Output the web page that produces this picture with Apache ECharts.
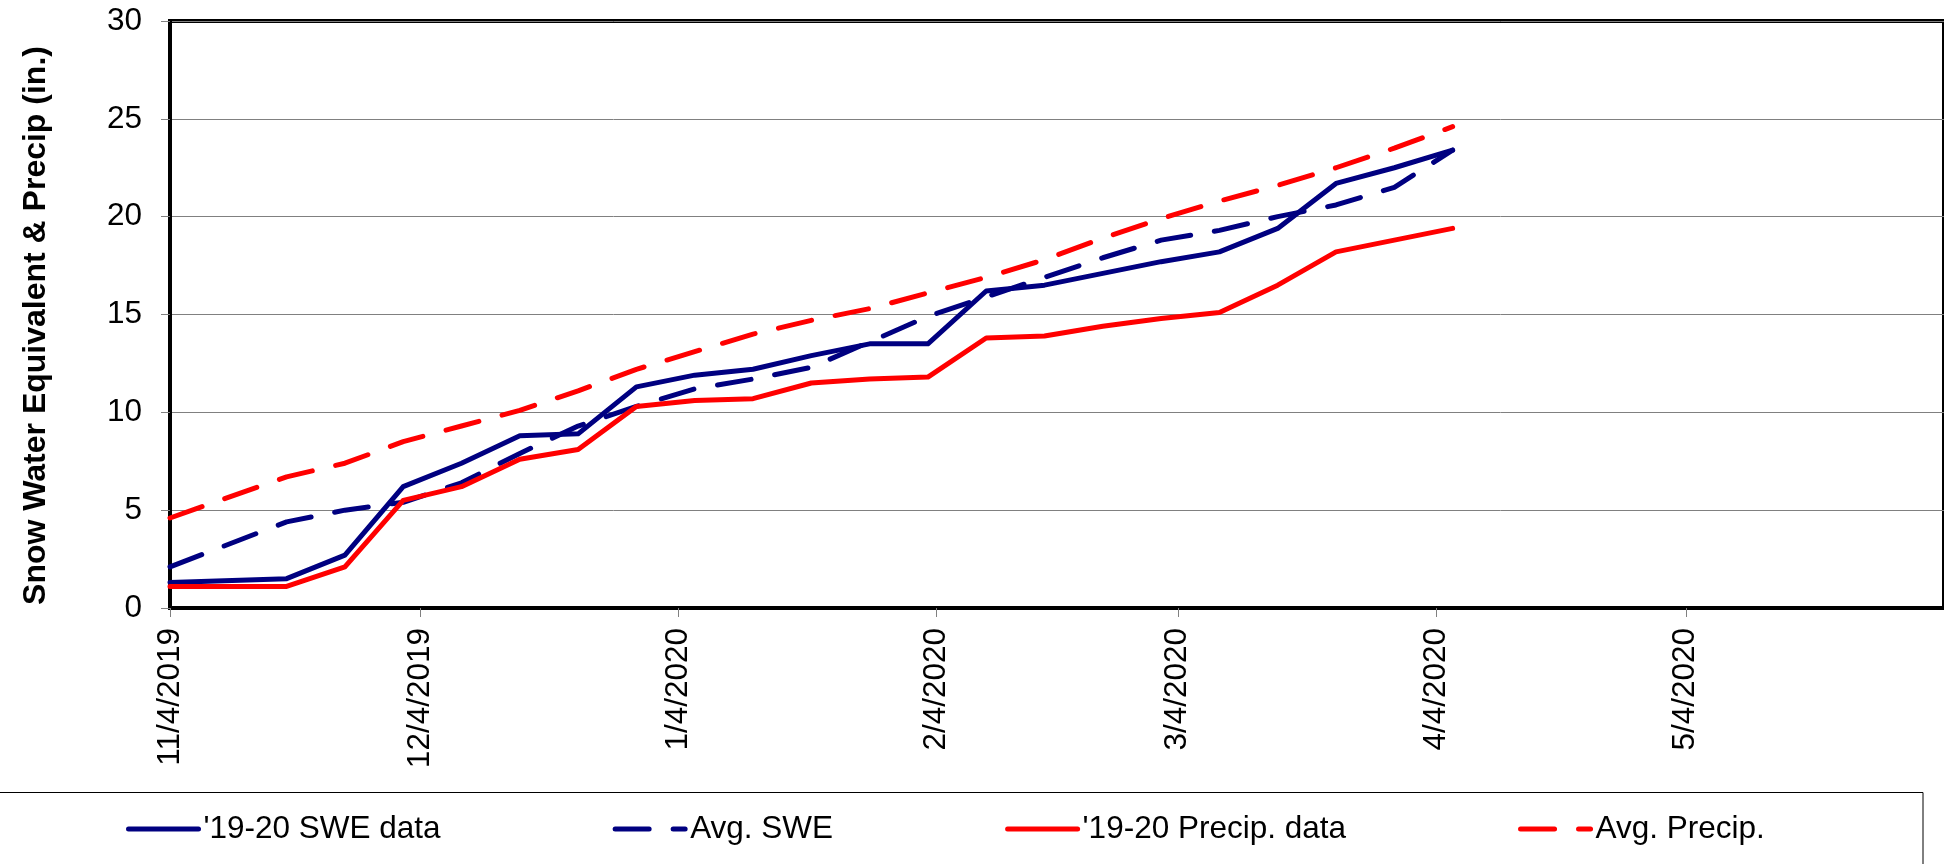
<!DOCTYPE html>
<html>
<head>
<meta charset="utf-8">
<title>SWE & Precip 2019-20</title>
<script src="https://cdn.jsdelivr.net/npm/echarts@6/dist/echarts.min.js"></script>
<style>
  html, body { margin: 0; padding: 0; background: #fff; }
  #chart { width: 1944px; height: 864px; }
</style>
</head>
<body>
<div id="chart"></div>
<script>
// weekly readings
var dates = ['2019-11-04', '2019-11-18', '2019-11-25', '2019-12-02', '2019-12-09', '2019-12-16',
             '2019-12-23', '2019-12-30', '2020-01-06', '2020-01-13', '2020-01-20', '2020-01-27',
             '2020-02-03', '2020-02-10', '2020-02-17', '2020-02-24', '2020-03-02', '2020-03-09',
             '2020-03-16', '2020-03-23', '2020-03-30', '2020-04-06'];
var sweData    = [1.3, 1.5, 2.7, 6.2, 7.4, 8.8, 8.9, 11.3, 11.9, 12.2, 12.9, 13.5, 13.5, 16.2, 16.5, 17.1, 17.7, 18.2, 19.4, 21.7, 22.5, 23.4];
var avgSwe     = [2.1, 4.4, 5.0, 5.4, 6.4, 7.9, 9.3, 10.3, 11.2, 11.7, 12.3, 13.6, 14.9, 15.9, 16.9, 17.9, 18.8, 19.3, 20.0, 20.6, 21.5, 23.4];
var precipData = [1.1, 1.1, 2.1, 5.5, 6.2, 7.6, 8.1, 10.3, 10.6, 10.7, 11.5, 11.7, 11.8, 13.8, 13.9, 14.4, 14.8, 15.1, 16.5, 18.2, 18.8, 19.4];
var avgPrecip  = [4.6, 6.7, 7.4, 8.5, 9.3, 10.1, 11.1, 12.2, 13.1, 14.0, 14.7, 15.3, 16.1, 16.9, 17.8, 18.9, 19.9, 20.8, 21.6, 22.5, 23.5, 24.6];

var seriesNames = ["'19-20 SWE data", 'Avg. SWE', "'19-20 Precip. data", 'Avg. Precip.'];
var tickDates = ['2019-11-04', '2019-12-04', '2020-01-04', '2020-02-04', '2020-03-04', '2020-04-04', '2020-05-04'];
var axisStart = '2019-11-04';
var axisEnd = '2020-06-04';

var FONT = "'Liberation Sans', Arial, sans-serif";
var NAVY = '#000080';
var RED = '#ff0000';
var DASH = [34, 24];

function toTime(s) {
    var p = s.split('-');
    return new Date(+p[0], +p[1] - 1, +p[2]).getTime();
}

function pairs(vals) {
    return dates.map(function (d, i) {
        return [toTime(d), vals[i]];
    });
}

function lineSeries(name, vals, color, dashed) {
    return {
        name: name,
        type: 'line',
        symbol: 'none',
        data: pairs(vals),
        lineStyle: {
            color: color,
            width: 5,
            type: dashed ? DASH : 'solid',
            cap: 'round',
            join: 'round'
        },
        itemStyle: { color: color }
    };
}

var tickTimes = tickDates.map(toTime);

var chart = echarts.init(document.getElementById('chart'), null, { renderer: 'canvas' });

chart.setOption({
    animation: false,
    backgroundColor: '#fff',
    grid: {
        left: 170,
        top: 21,
        width: 1879,   // axis runs past the right edge of the picture
        height: 587,
        show: true,
        borderColor: '#000',
        borderWidth: 4,
        backgroundColor: 'transparent'
    },
    legend: {
        left: 126,
        top: 812,
        padding: 0,
        itemGap: 172,
        itemWidth: 70,
        itemHeight: 14,
        itemStyle: { opacity: 0 },
        lineStyle: { width: 5 },
        textStyle: { fontFamily: FONT, fontSize: 31.5, color: '#000', lineHeight: 34 },
        data: seriesNames
    },
    xAxis: {
        type: 'value',
        min: toTime(axisStart),
        max: toTime(axisEnd),
        axisLine: { show: true, lineStyle: { color: '#000', width: 4 } },
        axisTick: {
            show: true,
            customValues: tickTimes,
            length: 9,
            lineStyle: { color: '#808080', width: 1 }
        },
        axisLabel: {
            customValues: tickTimes,
            rotate: 90,
            margin: 20,
            fontFamily: FONT,
            fontSize: 31.5,
            color: '#000',
            formatter: function (v) {
                var d = new Date(v);
                return (d.getMonth() + 1) + '/' + d.getDate() + '/' + d.getFullYear();
            }
        },
        splitLine: { show: false }
    },
    yAxis: {
        type: 'value',
        min: 0,
        max: 30,
        interval: 5,
        name: 'Snow Water Equivalent & Precip (in.)',
        nameLocation: 'middle',
        nameGap: 118,
        nameTextStyle: {
            fontFamily: FONT,
            fontSize: 32,
            fontWeight: 'bold',
            color: '#000',
            padding: [0, 22, 0, 0]
        },
        axisLine: { show: true, lineStyle: { color: '#000', width: 4 } },
        axisTick: { show: true, length: 9, lineStyle: { color: '#808080', width: 1 } },
        axisLabel: { margin: 28, fontFamily: FONT, fontSize: 31.5, color: '#000' },
        splitLine: { show: true, lineStyle: { color: '#808080', width: 1 } }
    },
    graphic: [{
        type: 'rect',
        silent: true,
        shape: { x: -2, y: 792.5, width: 1925, height: 200 },
        style: { fill: 'none', stroke: '#000', lineWidth: 1 }
    }],
    series: [
        lineSeries(seriesNames[0], sweData, NAVY, false),
        lineSeries(seriesNames[1], avgSwe, NAVY, true),
        lineSeries(seriesNames[2], precipData, RED, false),
        lineSeries(seriesNames[3], avgPrecip, RED, true)
    ]
});
</script>
</body>
</html>
